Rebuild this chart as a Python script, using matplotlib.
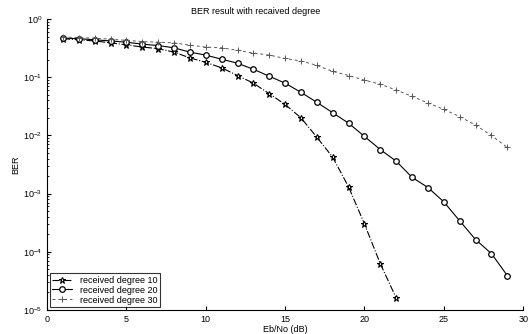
import matplotlib
matplotlib.use('Agg')
import matplotlib.pyplot as plt
import numpy as np

plt.rcParams['font.family'] = ['Liberation Sans', 'DejaVu Sans']

# Eb/No (dB) and BER values
ebno_10 = list(range(1, 23))
ber_10 = [0.46, 0.44, 0.42, 0.39, 0.36, 0.33, 0.31, 0.27, 0.215, 0.18, 0.145,
          0.107, 0.079, 0.052, 0.034, 0.020, 0.0093, 0.0042, 0.0013, 3.0e-4,
          6.2e-5, 1.6e-5]

ebno_20 = list(range(1, 30))
ber_20 = [0.47, 0.46, 0.44, 0.42, 0.40, 0.37, 0.35, 0.32, 0.27, 0.24, 0.204,
          0.174, 0.137, 0.104, 0.079, 0.055, 0.037, 0.0245, 0.0162, 0.0096,
          0.0057, 0.0036, 0.0019, 0.00127, 7.2e-4, 3.4e-4, 1.62e-4, 9.3e-5,
          3.9e-5]

ebno_30 = list(range(1, 30))
ber_30 = [0.49, 0.48, 0.47, 0.45, 0.43, 0.41, 0.40, 0.39, 0.355, 0.33, 0.32,
          0.29, 0.26, 0.24, 0.21, 0.19, 0.16, 0.126, 0.107, 0.089, 0.076,
          0.060, 0.047, 0.036, 0.028, 0.021, 0.015, 0.010, 0.0062]

labels = ['received degree 10', 'received degree 20', 'received degree 30']

fig = plt.figure(figsize=(5.29, 3.34), dpi=100)
ax = fig.add_axes([0.089, 0.072, 0.9, 0.871])

ax.semilogy(ebno_10, ber_10, color='black', linestyle='-.', linewidth=0.8,
            marker='*', markersize=4.5, markerfacecolor='white', markeredgewidth=0.8,
            label=labels[0])
ax.semilogy(ebno_20, ber_20, color='black', linestyle='-', linewidth=0.8,
            marker='o', markersize=4, markerfacecolor='white', markeredgewidth=0.9,
            label=labels[1])
ax.semilogy(ebno_30, ber_30, color='0.35', linestyle='--', linewidth=0.7,
            dashes=(3, 3), marker='+', markersize=4, markeredgewidth=0.7,
            label=labels[2])

ax.set_xlim(0, 30)
ax.set_ylim(1e-5, 1)
ax.set_xticks(np.arange(0, 31, 5))
ax.tick_params(which='both', direction='in', labelsize=6.5)
ax.tick_params(which='major', length=3)
ax.tick_params(which='minor', length=1.5)
ax.spines['top'].set_visible(False)
ax.spines['right'].set_visible(False)

ax.set_xlabel('Eb/No (dB)', fontsize=6.5, labelpad=1)
ax.set_ylabel('BER', fontsize=6.5, labelpad=2)
fig.text(256 / 529, 1 - 11 / 334, 'BER result with recaived degree',
         fontsize=6.5, ha='center', va='center')

leg = ax.legend(loc='lower left', fontsize=6.5, frameon=True, fancybox=False,
                edgecolor='black', borderpad=0.3, handlelength=2.2,
                labelspacing=0.1, borderaxespad=0.3)
leg.get_frame().set_linewidth(0.8)

fig.savefig('out.png', dpi=100)
